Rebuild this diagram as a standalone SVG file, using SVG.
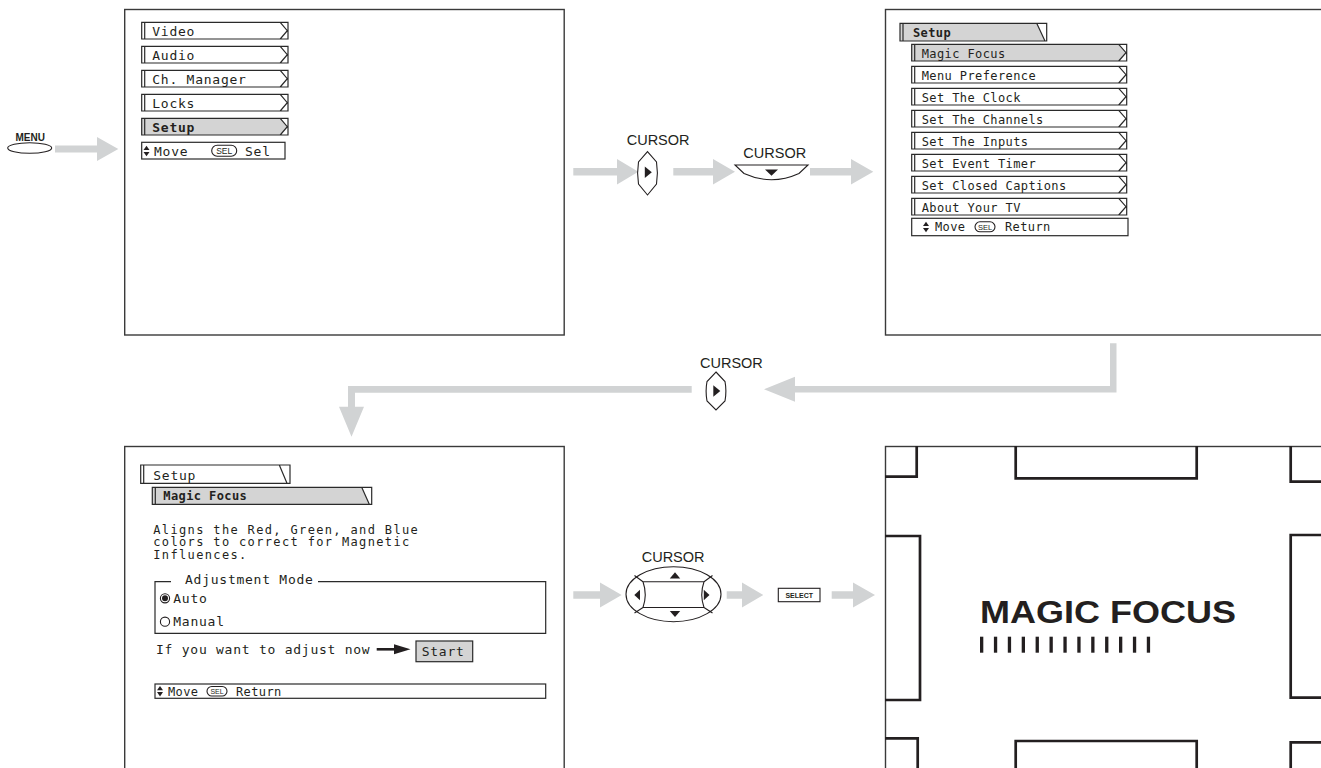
<svg xmlns="http://www.w3.org/2000/svg" xmlns:xlink="http://www.w3.org/1999/xlink" width="1321" height="768" viewBox="0 0 1321 768">
<style>
.scr{fill:#fff;stroke:#3a3a3a;stroke-width:1.4}
.ol{fill:none;stroke:#2a2a2a;stroke-width:1.2}
.hl{fill:#d4d4d4}
.m13{font-family:"DejaVu Sans Mono","Liberation Mono",monospace;font-size:13px;letter-spacing:0.75px;fill:#231f20}
.m12{font-family:"DejaVu Sans Mono","Liberation Mono",monospace;font-size:12px;letter-spacing:0.4px;fill:#231f20}
.body{font-family:"DejaVu Sans Mono","Liberation Mono",monospace;font-size:12px;letter-spacing:1.35px;fill:#231f20}
.b{font-weight:bold}
.lbl{font-family:"Liberation Sans",Arial,sans-serif;font-size:14.5px;fill:#231f20}
.sel{font-family:"Liberation Sans",Arial,sans-serif;fill:#231f20;text-anchor:middle}
.ga{fill:#d1d3d4}
.tk{fill:none;stroke:#231f20;stroke-width:2.7}
.blk{fill:#231f20}
.ln{fill:none;stroke:#231f20;stroke-width:1.1}
</style>
<defs>
<g id="itemL"><path class="ol" d="M0,0H146.3V16.7H0Z M3,0V16.7 M138.5,0L145.6,8.35L138.5,16.7"/></g>
<path id="fillL" class="hl" d="M0,0H138.5L145.6,8.35L138.5,16.7H0Z"/>
<g id="itemR"><path class="ol" d="M0,0H215V16.7H0Z M3,0V16.7 M207,0L214.3,8.35L207,16.7"/></g>
<path id="fillR" class="hl" d="M0,0H207L214.3,8.35L207,16.7H0Z"/>
<g id="ud"><polygon class="blk" points="0,-5.2 -3,-0.9 3,-0.9"/><polygon class="blk" points="-3,0.9 3,0.9 0,5.2"/></g>
</defs>

<!-- Connectors -->
<g id="connectors">
<polygon class="ga" points="55,145.5 97,145.5 97,137 118.3,149 97,161 97,152.5 55,152.5"/>
<polygon class="ga" points="573.3,168 617,168 617,159 638.3,171.7 617,184.5 617,175.5 573.3,175.5"/>
<polygon class="ga" points="673.3,168 713,168 713,159 735,171.7 713,184.5 713,175.5 673.3,175.5"/>
<polygon class="ga" points="810,168 851,168 851,159 873.3,171.7 851,184.5 851,175.5 810,175.5"/>
<polygon class="ga" points="1110,343.3 1116.5,343.3 1116.5,392.5 795,392.5 795,401.7 764,389.2 795,376.7 795,386 1110,386"/>
<polygon class="ga" points="691.7,386 348,386 348,406.7 339,406.7 351.5,436.7 364,406.7 355,406.7 355,392.7 691.7,392.7"/>
<polygon class="ga" points="573.3,591.3 600,591.3 600,582.5 621.7,595 600,607.5 600,598.7 573.3,598.7"/>
<polygon class="ga" points="726.7,591.3 742,591.3 742,582.5 763.3,595 742,607.5 742,598.7 726.7,598.7"/>
<polygon class="ga" points="831.7,591.3 853,591.3 853,582.5 875,595 853,607.5 853,598.7 831.7,598.7"/>
</g>

<!-- MENU button -->
<g id="menu-button">
<text x="15.5" y="140.7" font-family="Liberation Sans,Arial,sans-serif" font-size="10" font-weight="bold" fill="#231f20">MENU</text>
<ellipse cx="29.7" cy="148" rx="22" ry="5.3" class="ln"/>
</g>

<!-- Screen 1: main menu -->
<g id="screen-main-menu">
<rect class="scr" x="124.7" y="9.5" width="439.5" height="325.5"/>
<use href="#itemL" x="141.7" y="22.3"/>
<text class="m13" x="152.3" y="36.3">Video</text>
<use href="#itemL" x="141.7" y="46.3"/>
<text class="m13" x="152.3" y="60.3">Audio</text>
<use href="#itemL" x="141.7" y="70.3"/>
<text class="m13" x="152.3" y="84.3">Ch. Manager</text>
<use href="#itemL" x="141.7" y="94.3"/>
<text class="m13" x="152.3" y="108.3">Locks</text>
<use href="#fillL" x="141.7" y="118.3"/>
<use href="#itemL" x="141.7" y="118.3"/>
<text class="m13 b" x="152.3" y="132.3">Setup</text>
<rect class="ol" x="141.7" y="142.3" width="143.3" height="16.7"/>
<use href="#ud" x="146.5" y="151"/>
<text class="m13" x="154" y="155.5">Move</text>
<rect class="ln" x="211.7" y="145.3" width="25" height="11" rx="5.5"/>
<text class="sel" x="224.2" y="153.8" font-size="8.5">SEL</text>
<text class="m13" x="245" y="155.5">Sel</text>
</g>

<!-- Cursor right (top) -->
<g id="cursor-right-1">
<text class="lbl" x="626.7" y="145">CURSOR</text>
<path class="ln" d="M647.5,151.7 L656.5,162 Q658.3,173 656.5,184 L647.5,195 L638.5,184 Q636.7,173 638.5,162 Z"/>
<polygon class="blk" points="644.8,166.5 644.8,178 651.8,172.2"/>
</g>

<!-- Cursor down -->
<g id="cursor-down">
<text class="lbl" x="743.3" y="158.3">CURSOR</text>
<path class="ln" d="M735,165 H808 L799,173.5 Q771.5,186 744,173.5 Z"/>
<polygon class="blk" points="765,169.5 778,169.5 771.5,175.8"/>
</g>

<!-- Screen 2: setup menu -->
<g id="screen-setup-menu">
<rect class="scr" x="885.5" y="9.5" width="460" height="325.5"/>
<path class="hl" d="M900,23.3 H1036.7 L1045,41 H900 Z"/>
<path class="ol" d="M900,23.3 H1046.7 V41 H900 Z M903,23.3 V41 M1036.7,23.3 L1045,41"/>
<text class="m12 b" x="913" y="36.8">Setup</text>
<use href="#fillR" x="911.7" y="44.3"/>
<use href="#itemR" x="911.7" y="44.3"/>
<text class="m12" x="921.7" y="57.5">Magic Focus</text>
<use href="#itemR" x="911.7" y="66.3"/>
<text class="m12" x="921.7" y="79.5">Menu Preference</text>
<use href="#itemR" x="911.7" y="88.3"/>
<text class="m12" x="921.7" y="101.5">Set The Clock</text>
<use href="#itemR" x="911.7" y="110.3"/>
<text class="m12" x="921.7" y="123.5">Set The Channels</text>
<use href="#itemR" x="911.7" y="132.3"/>
<text class="m12" x="921.7" y="145.5">Set The Inputs</text>
<use href="#itemR" x="911.7" y="154.3"/>
<text class="m12" x="921.7" y="167.5">Set Event Timer</text>
<use href="#itemR" x="911.7" y="176.3"/>
<text class="m12" x="921.7" y="189.5">Set Closed Captions</text>
<use href="#itemR" x="911.7" y="198.3"/>
<text class="m12" x="921.7" y="211.5">About Your TV</text>
<rect class="ol" x="911.7" y="218.3" width="216.3" height="17.4"/>
<use href="#ud" x="926" y="227"/>
<text class="m12" x="935" y="231.3">Move</text>
<rect class="ln" x="975" y="221.8" width="20" height="10" rx="5"/>
<text class="sel" x="985" y="229.8" font-size="7.5">SEL</text>
<text class="m12" x="1005" y="231.3">Return</text>
</g>

<!-- Cursor right (middle) -->
<g id="cursor-right-2">
<text class="lbl" x="700" y="368.3">CURSOR</text>
<path class="ln" d="M716,372 L725,381.5 Q726.8,391 725,401 L716,410 L707,401 Q705.2,391 707,381.5 Z"/>
<polygon class="blk" points="713.3,385.3 713.3,396.8 720.3,391"/>
</g>

<!-- Screen 3: magic focus settings -->
<g id="screen-magic-focus">
<rect class="scr" x="124.7" y="446.5" width="439.5" height="340"/>
<path fill="#fff" d="M140.7,465 H279.3 L286.7,483.3 H140.7 Z"/>
<path class="ol" d="M140.7,465 H290 V483.3 H140.7 Z M143.7,465 V483.3 M279.3,465 L287,483.3"/>
<text class="m13" x="153.3" y="479.5">Setup</text>
<path class="hl" d="M152.3,487.3 H361.7 L369.3,504.3 H152.3 Z"/>
<path class="ol" d="M152.3,487.3 H371.7 V504.3 H152.3 Z M155.3,487.3 V504.3 M361.7,487.3 L369.3,504.3"/>
<text class="m12 b" x="163.3" y="500.3">Magic Focus</text>
<text class="body" x="153.3" y="533.5">Aligns the Red, Green, and Blue</text>
<text class="body" x="153.3" y="546">colors to correct for Magnetic</text>
<text class="body" x="153.3" y="558.5">Influences.</text>
<path class="ol" d="M171,581.7 H155 V633.3 H545.7 V581.7 H318"/>
<text class="m13" x="185" y="584">Adjustment Mode</text>
<circle cx="165" cy="598.3" r="4.6" class="ln"/>
<circle cx="165" cy="598.3" r="3" class="blk"/>
<text class="m13" x="173.3" y="602.6">Auto</text>
<circle cx="165" cy="621.7" r="4.6" class="ln"/>
<text class="m13" x="173.3" y="626">Manual</text>
<text class="m13" x="156" y="654">If you want to adjust now</text>
<path d="M376.7,649.3 H396" stroke="#231f20" stroke-width="2.6"/>
<polygon class="blk" points="394,644.3 410.5,649.3 394,654.3"/>
<rect x="416" y="641" width="56.7" height="20.7" class="hl" stroke="#2a2a2a" stroke-width="1.2"/>
<text class="m13" x="421.7" y="656">Start</text>
<rect class="ol" x="155" y="684" width="390.7" height="14.3"/>
<use href="#ud" x="160" y="691.2"/>
<text class="m12" x="168" y="695.5">Move</text>
<rect class="ln" x="207" y="686.5" width="20" height="9.5" rx="4.75"/>
<text class="sel" x="217" y="694" font-size="7">SEL</text>
<text class="m12" x="236" y="695.5">Return</text>
</g>

<!-- Cursor pad -->
<g id="cursor-pad">
<text class="lbl" x="641.7" y="561.5">CURSOR</text>
<ellipse cx="673.5" cy="594.2" rx="47.5" ry="27.5" class="ln"/>
<path class="ln" d="M643,581.7 H704 M643,607.5 H704 M643,581.7 Q647.5,594.6 643,607.5 M704,581.7 Q699.5,594.6 704,607.5 M643,581.7 L634.5,575.5 M704,581.7 L712.5,575.5 M643,607.5 L634.5,613 M704,607.5 L712.5,613"/>
<polygon class="blk" points="675,572.3 669.8,578.5 680.2,578.5"/>
<polygon class="blk" points="669.8,611 680.2,611 675,617"/>
<polygon class="blk" points="634.3,595 640,589.8 640,600.2"/>
<polygon class="blk" points="709.5,595 703.8,589.8 703.8,600.2"/>
</g>

<!-- SELECT button -->
<g id="select-button">
<rect x="778.3" y="588.3" width="41.7" height="13.4" class="ln" fill="#fff"/>
<text class="sel" x="799.2" y="597.8" font-size="7" font-weight="bold">SELECT</text>
</g>

<!-- Screen 4: magic focus pattern -->
<g id="screen-pattern">
<rect class="scr" x="885.5" y="446.5" width="460" height="340"/>
<path class="tk" d="M885,476.7 H916.7 V446"/>
<path class="tk" d="M1015.7,446 V478.3 H1196.7 V446"/>
<path class="tk" d="M1325,481.7 H1290.7 V446"/>
<path class="tk" d="M885,536 H920 V700 H885"/>
<path class="tk" d="M1325,535 H1290.7 V697.7 H1325"/>
<path class="tk" d="M885,738.3 H917.7 V770"/>
<path class="tk" d="M1015.7,770 V741 H1196.7 V770"/>
<path class="tk" d="M1325,742.3 H1290.7 V770"/>
<text x="980" y="622.7" font-family="Liberation Sans,Arial,sans-serif" font-size="31.5" font-weight="bold" fill="#231f20" textLength="256" lengthAdjust="spacingAndGlyphs">MAGIC FOCUS</text>
<g class="blk">
<rect x="980" y="636.7" width="3.3" height="16"/>
<rect x="993.9" y="636.7" width="3.3" height="16"/>
<rect x="1007.8" y="636.7" width="3.3" height="16"/>
<rect x="1021.7" y="636.7" width="3.3" height="16"/>
<rect x="1035.6" y="636.7" width="3.3" height="16"/>
<rect x="1049.5" y="636.7" width="3.3" height="16"/>
<rect x="1063.4" y="636.7" width="3.3" height="16"/>
<rect x="1077.3" y="636.7" width="3.3" height="16"/>
<rect x="1091.2" y="636.7" width="3.3" height="16"/>
<rect x="1105.1" y="636.7" width="3.3" height="16"/>
<rect x="1119" y="636.7" width="3.3" height="16"/>
<rect x="1132.9" y="636.7" width="3.3" height="16"/>
<rect x="1146.8" y="636.7" width="3.3" height="16"/>
</g>
</g>
</svg>
